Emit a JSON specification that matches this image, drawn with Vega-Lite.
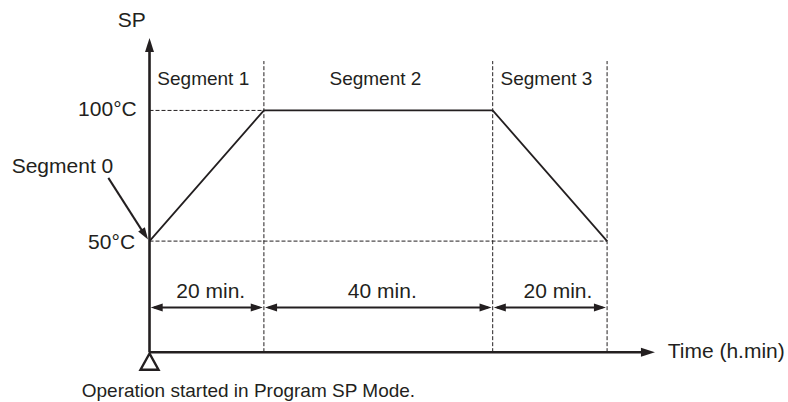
{
  "$schema": "https://vega.github.io/schema/vega-lite/v6.json",
  "width": 788,
  "height": 402,
  "padding": 0,
  "autosize": {"type": "fit", "contains": "padding"},
  "background": "white",
  "config": {"view": {"stroke": null}},
  "layer": [
    {
      "data": {"values": [
        {"x1": 0, "y1": 100, "x2": 20, "y2": 100},
        {"x1": 0, "y1": 50, "x2": 80, "y2": 50},
        {"x1": 20, "y1": 7.5, "x2": 20, "y2": 118.9},
        {"x1": 60, "y1": 7.5, "x2": 60, "y2": 118.9},
        {"x1": 80, "y1": 7.5, "x2": 80, "y2": 118.9}
      ]},
      "mark": {"type": "rule", "color": "#231f20", "strokeWidth": 1, "strokeDash": [4, 2]},
      "encoding": {
        "x": {"field": "x1", "type": "quantitative", "axis": null, "scale": {"domain": [-26.14, 111.63], "nice": false, "zero": false}},
        "y": {"field": "y1", "type": "quantitative", "axis": null, "scale": {"domain": [-11.18, 142.25], "nice": false, "zero": false}},
        "x2": {"field": "x2"},
        "y2": {"field": "y2"}
      }
    },
    {
      "data": {"values": [
        {"x1": 0, "y1": 7.5, "x2": 0, "y2": 124},
        {"x1": 0, "y1": 7.5, "x2": 86, "y2": 7.5}
      ]},
      "mark": {"type": "rule", "color": "#231f20", "strokeWidth": 2.6},
      "encoding": {
        "x": {"field": "x1", "type": "quantitative", "axis": null, "scale": {"domain": [-26.14, 111.63], "nice": false, "zero": false}},
        "y": {"field": "y1", "type": "quantitative", "axis": null, "scale": {"domain": [-11.18, 142.25], "nice": false, "zero": false}},
        "x2": {"field": "x2"},
        "y2": {"field": "y2"}
      }
    },
    {
      "data": {"values": [
        {"x1": 0.8, "y1": 24.6, "x2": 19.2, "y2": 24.6},
        {"x1": 20.8, "y1": 24.6, "x2": 59.2, "y2": 24.6},
        {"x1": 60.8, "y1": 24.6, "x2": 79.2, "y2": 24.6},
        {"x1": -7.2, "y1": 74.2, "x2": -1.3, "y2": 54.0}
      ]},
      "mark": {"type": "rule", "color": "#231f20", "strokeWidth": 2},
      "encoding": {
        "x": {"field": "x1", "type": "quantitative", "axis": null, "scale": {"domain": [-26.14, 111.63], "nice": false, "zero": false}},
        "y": {"field": "y1", "type": "quantitative", "axis": null, "scale": {"domain": [-11.18, 142.25], "nice": false, "zero": false}},
        "x2": {"field": "x2"},
        "y2": {"field": "y2"}
      }
    },
    {
      "data": {"values": [
        {"t": 0, "sp": 50},
        {"t": 20, "sp": 100},
        {"t": 60, "sp": 100},
        {"t": 80, "sp": 50}
      ]},
      "mark": {"type": "line", "color": "#231f20", "strokeWidth": 1.8},
      "encoding": {
        "x": {"field": "t", "type": "quantitative", "axis": null, "scale": {"domain": [-26.14, 111.63], "nice": false, "zero": false}},
        "y": {"field": "sp", "type": "quantitative", "axis": null, "scale": {"domain": [-11.18, 142.25], "nice": false, "zero": false}}
      }
    },
    {
      "data": {"values": [
        {"x": 0, "y": 127.75, "a": 0},
        {"x": 88.37, "y": 7.5, "a": 90}
      ]},
      "mark": {"type": "point", "shape": "M0,0L-0.32,1L0.32,1Z", "size": 784, "filled": true, "color": "#231f20", "opacity": 1, "strokeWidth": 0},
      "encoding": {
        "x": {"field": "x", "type": "quantitative", "axis": null, "scale": {"domain": [-26.14, 111.63], "nice": false, "zero": false}},
        "y": {"field": "y", "type": "quantitative", "axis": null, "scale": {"domain": [-11.18, 142.25], "nice": false, "zero": false}},
        "angle": {"field": "a", "type": "quantitative", "scale": null}
      }
    },
    {
      "data": {"values": [
        {"x": -0.26, "y": 50.6, "a": 147.2},
        {"x": 0.2, "y": 24.6, "a": 270},
        {"x": 19.8, "y": 24.6, "a": 90},
        {"x": 20.2, "y": 24.6, "a": 270},
        {"x": 59.8, "y": 24.6, "a": 90},
        {"x": 60.2, "y": 24.6, "a": 270},
        {"x": 79.8, "y": 24.6, "a": 90}
      ]},
      "mark": {"type": "point", "shape": "M0,0L-0.33,1L0.33,1Z", "size": 576, "filled": true, "color": "#231f20", "opacity": 1, "strokeWidth": 0},
      "encoding": {
        "x": {"field": "x", "type": "quantitative", "axis": null, "scale": {"domain": [-26.14, 111.63], "nice": false, "zero": false}},
        "y": {"field": "y", "type": "quantitative", "axis": null, "scale": {"domain": [-11.18, 142.25], "nice": false, "zero": false}},
        "angle": {"field": "a", "type": "quantitative", "scale": null}
      }
    },
    {
      "data": {"values": [{"x": 0, "y": 7.0}]},
      "mark": {"type": "point", "shape": "M0,0L-1,1.8L1,1.8Z", "size": 324, "filled": false, "fill": "white", "fillOpacity": 1, "stroke": "#231f20", "strokeWidth": 2.4, "opacity": 1},
      "encoding": {
        "x": {"field": "x", "type": "quantitative", "axis": null, "scale": {"domain": [-26.14, 111.63], "nice": false, "zero": false}},
        "y": {"field": "y", "type": "quantitative", "axis": null, "scale": {"domain": [-11.18, 142.25], "nice": false, "zero": false}}
      }
    },
    {
      "data": {"values": [
        {"x": 9.4, "y": 109.8, "label": "Segment 1"},
        {"x": 39.5, "y": 109.8, "label": "Segment 2"},
        {"x": 69.4, "y": 109.8, "label": "Segment 3"}
      ]},
      "mark": {"type": "text", "font": "Liberation Sans", "fontSize": 19, "color": "#231f20", "align": "center", "baseline": "alphabetic"},
      "encoding": {
        "x": {"field": "x", "type": "quantitative", "axis": null, "scale": {"domain": [-26.14, 111.63], "nice": false, "zero": false}},
        "y": {"field": "y", "type": "quantitative", "axis": null, "scale": {"domain": [-11.18, 142.25], "nice": false, "zero": false}},
        "text": {"field": "label"}
      }
    },
    {
      "data": {"values": [
        {"x": 10.7, "y": 28.4, "label": "20 min."},
        {"x": 40.7, "y": 28.4, "label": "40 min."},
        {"x": 71.4, "y": 28.4, "label": "20 min."},
        {"x": -3.1, "y": 132.1, "label": "SP"}
      ]},
      "mark": {"type": "text", "font": "Liberation Sans", "fontSize": 21, "color": "#231f20", "align": "center", "baseline": "alphabetic"},
      "encoding": {
        "x": {"field": "x", "type": "quantitative", "axis": null, "scale": {"domain": [-26.14, 111.63], "nice": false, "zero": false}},
        "y": {"field": "y", "type": "quantitative", "axis": null, "scale": {"domain": [-11.18, 142.25], "nice": false, "zero": false}},
        "text": {"field": "label"}
      }
    },
    {
      "data": {"values": [
        {"x": -2.24, "y": 97.7, "label": "100°C"},
        {"x": -2.53, "y": 46.8, "label": "50°C"}
      ]},
      "mark": {"type": "text", "font": "Liberation Sans", "fontSize": 21, "color": "#231f20", "align": "right", "baseline": "alphabetic"},
      "encoding": {
        "x": {"field": "x", "type": "quantitative", "axis": null, "scale": {"domain": [-26.14, 111.63], "nice": false, "zero": false}},
        "y": {"field": "y", "type": "quantitative", "axis": null, "scale": {"domain": [-11.18, 142.25], "nice": false, "zero": false}},
        "text": {"field": "label"}
      }
    },
    {
      "data": {"values": [
        {"x": -24.1, "y": 76.2, "label": "Segment 0"},
        {"x": 90.6, "y": 5.4, "label": "Time (h.min)"}
      ]},
      "mark": {"type": "text", "font": "Liberation Sans", "fontSize": 21, "color": "#231f20", "align": "left", "baseline": "alphabetic"},
      "encoding": {
        "x": {"field": "x", "type": "quantitative", "axis": null, "scale": {"domain": [-26.14, 111.63], "nice": false, "zero": false}},
        "y": {"field": "y", "type": "quantitative", "axis": null, "scale": {"domain": [-11.18, 142.25], "nice": false, "zero": false}},
        "text": {"field": "label"}
      }
    },
    {
      "data": {"values": [
        {"x": -11.85, "y": -9.77, "label": "Operation started in Program SP Mode."}
      ]},
      "mark": {"type": "text", "font": "Liberation Sans", "fontSize": 19, "color": "#231f20", "align": "left", "baseline": "alphabetic"},
      "encoding": {
        "x": {"field": "x", "type": "quantitative", "axis": null, "scale": {"domain": [-26.14, 111.63], "nice": false, "zero": false}},
        "y": {"field": "y", "type": "quantitative", "axis": null, "scale": {"domain": [-11.18, 142.25], "nice": false, "zero": false}},
        "text": {"field": "label"}
      }
    }
  ]
}
